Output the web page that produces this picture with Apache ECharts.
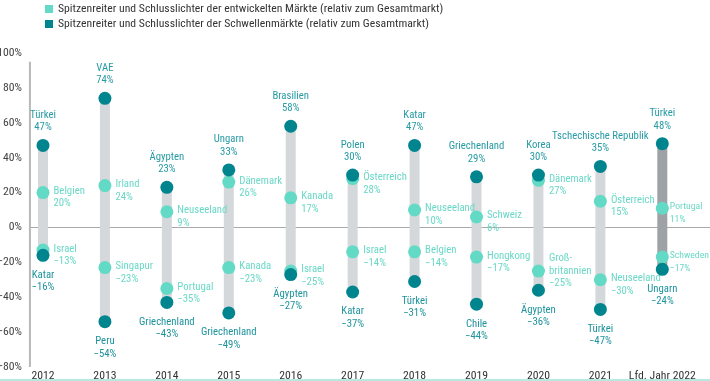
<!DOCTYPE html>
<html><head><meta charset="utf-8">
<script src="https://cdn.jsdelivr.net/npm/echarts@6/dist/echarts.min.js"></script>
<style>html,body{margin:0;padding:0;background:#fff}#c{width:710px;height:381px}</style>
</head><body><div id="c"></div>
<script>
const years = ['2012','2013','2014','2015','2016','2017','2018','2019','2020','2021','Lfd. Jahr 2022'];
const legendNames = ['Spitzenreiter und Schlusslichter der entwickelten Märkte (relativ zum Gesamtmarkt)',
                     'Spitzenreiter und Schlusslichter der Schwellenmärkte (relativ zum Gesamtmarkt)'];
const emTopName = ['Türkei','VAE','Ägypten','Ungarn','Brasilien','Polen','Katar','Griechenland','Korea','Tschechische Republik','Türkei'];
const emTopVal  = [47,74,23,33,58,30,47,29,30,35,48];
const dmTopName = ['Belgien','Irland','Neuseeland','Dänemark','Kanada','Österreich','Neuseeland','Schweiz','Dänemark','Österreich','Portugal'];
const dmTopVal  = [20,24,9,26,17,28,10,6,27,15,11];
const dmBotName = ['Israel','Singapur','Portugal','Kanada','Israel','Israel','Belgien','Hongkong','Groß-\nbritannien','Neuseeland','Schweden'];
const dmBotVal  = [-13,-23,-35,-23,-25,-14,-14,-17,-25,-30,-17];
const emBotName = ['Katar','Peru','Griechenland','Griechenland','Ägypten','Katar','Türkei','Chile','Ägypten','Türkei','Ungarn'];
const emBotVal  = [-16,-54,-43,-49,-27,-37,-31,-44,-36,-47,-24];

// pick the narrowest installed font
const cv = document.createElement('canvas').getContext('2d');
function w(font){ cv.font = font; return cv.measureText(legendNames[0]).width; }
const cands = ['Liberation Sans Narrow','Roboto Condensed','Open Sans Condensed','DejaVu Sans Condensed','Noto Sans Condensed','Roboto','Liberation Sans','Lato'];
let best = 'Roboto', bestW = 1e9;
for (const f of cands) {
  const a = w('13px "' + f + '", monospace'), b = w('13px monospace');
  const a2 = w('13px "' + f + '", serif'), b2 = w('13px serif');
  if (Math.abs(a - b) > 0.5 || Math.abs(a2 - b2) > 0.5) { if (a < bestW) { bestW = a; best = f; } }
}
const FONT = '"' + best + '",sans-serif';
const k = Math.max(0.8, Math.min(1, 371 / bestW));
const fs = s => +(s * k).toFixed(2);

const fmtPct = v => (v < 0 ? '\u2212' + Math.abs(v) : v) + '%';
const last = years.length - 1;

const rangeData = years.map((y,i) => {
  const vals = [emTopVal[i], dmTopVal[i], dmBotVal[i], emBotVal[i]];
  return { value: [i, Math.min(...vals), Math.max(...vals)],
           itemStyle: { color: i === last ? '#9ea2a5' : '#d5d8db' } };
});
const dmData = [], dmNames = [];
years.forEach((y,i) => {
  [[dmTopVal[i], dmTopName[i]], [dmBotVal[i], dmBotName[i]]].forEach(([v, n]) => {
    const lines = n.split('\n').length + 1;
    const lbl = { offset: [0, lines > 2 ? 0 : 5] };
    if (i === last) { lbl.fontSize = fs(11.2); lbl.distance = 1; }
    dmData.push({ value: [i, v], label: lbl });
    dmNames.push(n);
  });
});
const emTopData = years.map((y,i) => [i, emTopVal[i]]);
const emBotData = years.map((y,i) => [i, emBotVal[i]]);
const xMin = -0.226, xMax = 10.77;
const yLineData = [[xMin + 0.015, -80], [xMin + 0.015, 95]];

const chart = echarts.init(document.getElementById('c'), null, {renderer:'canvas'});
const lblBase = { fontFamily: FONT, fontSize: fs(12.4), lineHeight: 12.5 };
chart.setOption({
  animation: false,
  textStyle: { fontFamily: FONT },
  legend: {
    data: [{name: legendNames[0], icon: 'rect'}, {name: legendNames[1], icon: 'rect'}],
    orient: 'vertical', left: 40, top: -2, itemWidth: 8, itemHeight: 8, itemGap: 3,
    textStyle: { fontFamily: FONT, fontSize: fs(13.5), color: '#333' }
  },
  grid: { left: 29, right: 0, top: 53, bottom: 14, containLabel: false, outerBoundsMode: 'none' },
  xAxis: {
    type: 'value', min: xMin, max: xMax,
    splitLine: { show: false }, axisLine: { show: false }, axisTick: { show: false },
    axisLabel: { customValues: years.map((y,i) => i), formatter: v => years[Math.round(v)] || '',
                 color: '#333', fontSize: fs(13.5), fontFamily: FONT, margin: 3 }
  },
  yAxis: {
    type: 'value', min: -80, max: 100, interval: 20,
    splitLine: { show: false },
    axisLine: { show: false },
    axisTick: { show: false },
    axisLabel: { formatter: v => fmtPct(v), color: '#444', fontSize: fs(13.5), fontFamily: FONT, margin: 7 }
  },
  series: [
    {
      type: 'line', name: 'yline', data: yLineData, showSymbol: false, symbol: 'none', clip: false, z: 0,
      silent: true, lineStyle: { color: '#b8b8b8', width: 2 }
    },
    {
      type: 'custom', name: 'range', data: rangeData, z: 1, clip: false,
      renderItem: (params, api) => {
        const x = api.value(0), lo = api.value(1), hi = api.value(2);
        const p1 = api.coord([x, hi]), p2 = api.coord([x, lo]);
        const bw = 10;
        return { type: 'rect', shape: { x: p1[0] - bw/2, y: p1[1], width: bw, height: p2[1] - p1[1] },
                 style: { fill: api.visual('color') } };
      },
      markLine: { silent: true, symbol: 'none', z: 0, label: { show: false },
                  lineStyle: { color: '#a9a9a9', width: 1, type: 'solid' },
                  data: [{ yAxis: 0 }] }
    },
    {
      type: 'scatter', name: legendNames[0], data: dmData, symbolSize: 13, z: 3,
      itemStyle: { color: '#62dac5', opacity: 1 },
      label: { show: true, position: 'right', distance: 4, color: '#6bd8c7', ...lblBase,
               formatter: p => dmNames[p.dataIndex] + '\n' + fmtPct(p.value[1]) }
    },
    {
      type: 'scatter', name: legendNames[1], data: emTopData, symbolSize: 13, z: 4,
      itemStyle: { color: '#00858f', opacity: 1 },
      label: { show: true, position: 'top', distance: 5, color: '#279ba4', align: 'center', ...lblBase,
               formatter: p => emTopName[p.dataIndex] + '\n' + fmtPct(p.value[1]) }
    },
    {
      type: 'scatter', name: legendNames[1] + ' ', data: emBotData, symbolSize: 13, z: 4,
      itemStyle: { color: '#00858f', opacity: 1 },
      label: { show: true, position: 'bottom', distance: 7, color: '#1f939c', align: 'center', ...lblBase,
               formatter: p => emBotName[p.dataIndex] + '\n' + fmtPct(p.value[1]) }
    }
  ],
  graphic: [{ type: 'rect', left: 0, top: 379, shape: { width: 710, height: 2 }, style: { fill: '#b5e9e2' }, silent: true }]
});
</script></body></html>
